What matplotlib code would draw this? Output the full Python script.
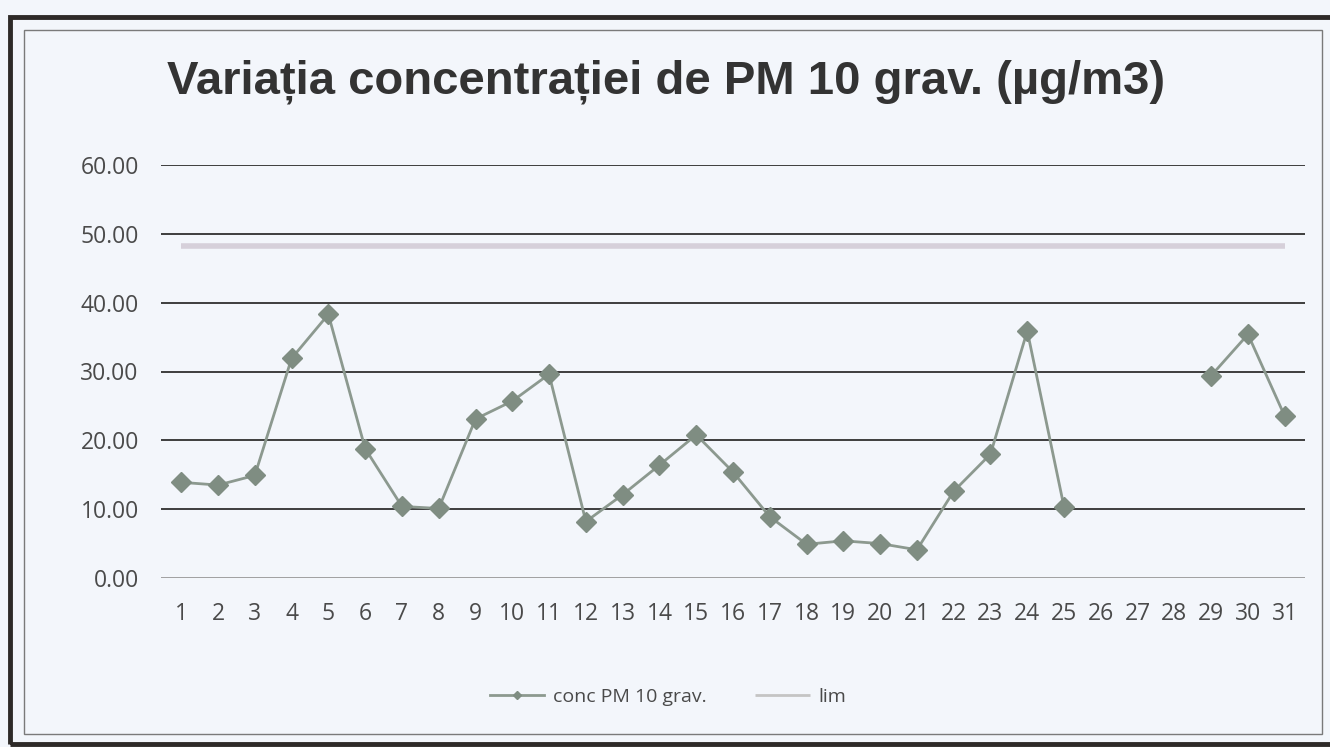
import numpy as np
import matplotlib
import matplotlib.pyplot as plt
from matplotlib.patches import Rectangle

matplotlib.use('Agg')

days = list(range(1, 32))
conc = [13.9, 13.5, 14.9, 31.9, 38.3, 18.8, 10.4, 10.1, 23.1, 25.7, 29.6, 8.2,
        12.1, 16.4, 20.8, 15.4, 8.9, 4.9, 5.4, 5.0, 4.1, 12.6, 18.0, 35.9, 10.3,
        np.nan, np.nan, np.nan, 29.4, 35.4, 23.5]
lim = [48.3] * 31
y_ticks = [0, 10, 20, 30, 40, 50, 60]
title = 'Variația concentrației de PM 10 grav. (µg/m3)'

bg = '#f3f6fb'
line_col = '#8c998f'
marker_col = '#7f8d82'
lim_col = '#d6d0da'
text_col = '#4a4a4a'

fig = plt.figure(figsize=(13.3, 7.47), dpi=100, facecolor=bg)

# scanned frame
fig.patches.append(Rectangle((10 / 1330, 1 - 744 / 747), 1330 / 1330, 727 / 747,
                             transform=fig.transFigure, fill=False, edgecolor='#2e2a28',
                             linewidth=3.5))
fig.patches.append(Rectangle((24 / 1330, 1 - 734 / 747), 1298 / 1330, 704 / 747,
                             transform=fig.transFigure, fill=False, edgecolor='#7a7a7a',
                             linewidth=1.0))

ax = fig.add_axes([161 / 1330, 1 - 578 / 747, 1144 / 1330, 413 / 747])
ax.set_facecolor(bg)

ax.plot(days, lim, color=lim_col, linewidth=4, solid_capstyle='butt', label='lim', zorder=2)
ax.plot(days, conc, color=line_col, linewidth=2, marker='D', markersize=10.5,
        markerfacecolor=marker_col, markeredgecolor=marker_col,
        label='conc PM 10 grav.', zorder=3)

ax.set_xlim(0.45, 31.55)
ax.set_ylim(0, 60)
ax.set_yticks(y_ticks)
ax.set_yticklabels(['%.2f' % v for v in y_ticks])
ax.set_xticks(days)
ax.set_xticklabels([str(d) for d in days])
for v in y_ticks[1:]:
    ax.axhline(v, color='#2f2f2f', linewidth=1.3, zorder=1)
ax.axhline(0, color='#9a9a9a', linewidth=1.3, zorder=1)
for s in ax.spines.values():
    s.set_visible(False)
ax.tick_params(axis='both', length=0, labelsize=16.5, labelcolor=text_col)
ax.tick_params(axis='x', pad=17)
ax.tick_params(axis='y', pad=16)
for lbl in ax.get_xticklabels() + ax.get_yticklabels():
    lbl.set_family('Open Sans')

fig.text(666 / 1330, 1 - 82 / 747, title, ha='center', va='center', fontsize=34,
         fontweight='bold', color='#333333', family='Liberation Sans')

handles, labels = ax.get_legend_handles_labels()
leg = fig.legend(handles[::-1], labels[::-1], loc='center', bbox_to_anchor=(668 / 1330, 1 - 697 / 747),
                 ncol=2, frameon=False, handlelength=2.8, handletextpad=0.45, columnspacing=2.5,
                 prop={'family': 'Open Sans', 'size': 14})
leg.legend_handles[0].set_markersize(4)
leg.legend_handles[1].set_linewidth(2)
leg.legend_handles[1].set_color('#c4c4c4')
for t in leg.get_texts():
    t.set_color(text_col)

fig.savefig('out.png', dpi=100, facecolor=bg)
